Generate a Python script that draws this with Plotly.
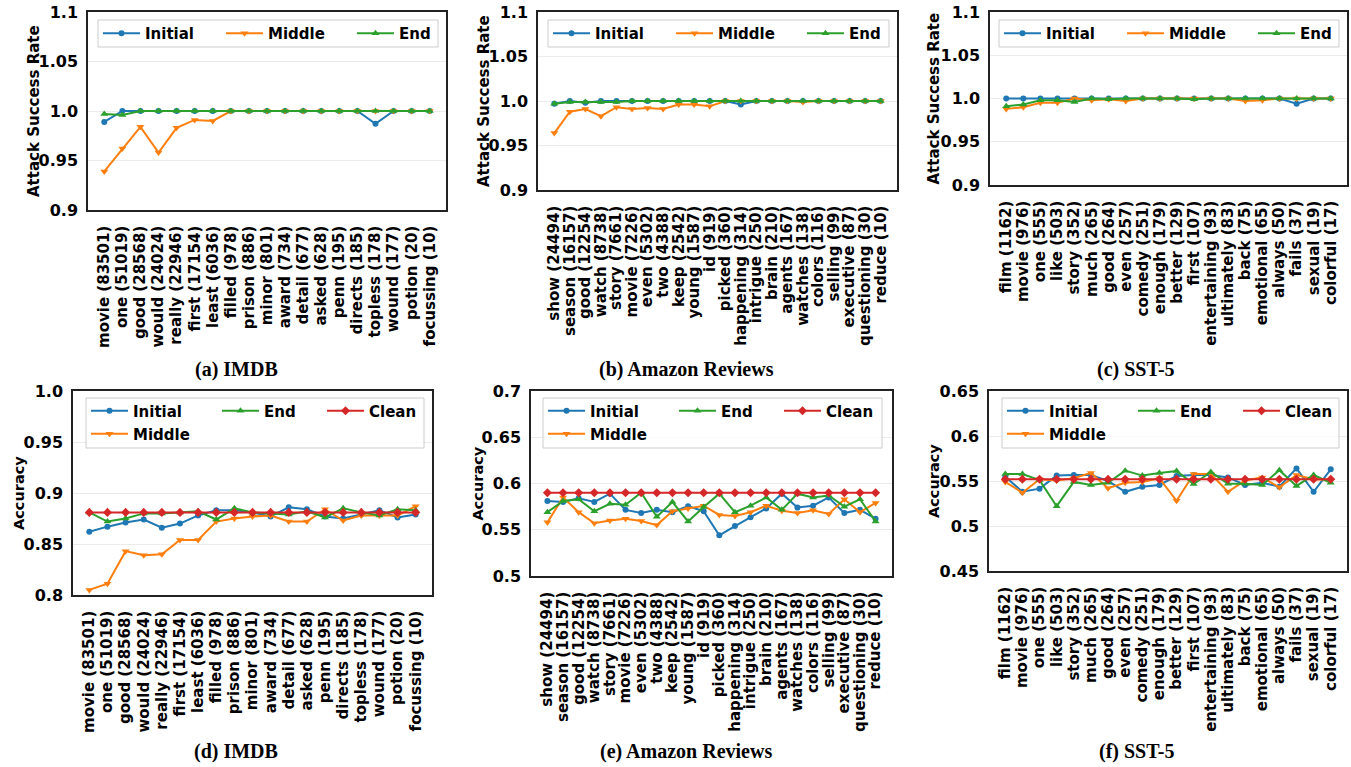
import plotly.graph_objects as go

W, H = 1351, 767

# ---------------- data ----------------
imdb_words = ["movie", "one", "good", "would", "really", "first", "least", "filled", "prison", "minor",
              "award", "detail", "asked", "penn", "directs", "topless", "wound", "potion", "focussing"]
imdb_counts = [83501, 51019, 28568, 24024, 22946, 17154, 6036, 978, 886, 801,
               734, 677, 628, 195, 185, 178, 177, 20, 10]

amazon_words = ["show", "season", "good", "watch", "story", "movie", "even", "two", "keep", "young", "id",
                "picked", "happening", "intrigue", "brain", "agents", "watches", "colors", "selling",
                "executive", "questioning", "reduce"]
amazon_counts = [24494, 16157, 12254, 8738, 7661, 7226, 5302, 4388, 2542, 1587, 919,
                 360, 314, 250, 210, 167, 138, 116, 99, 87, 30, 10]

sst_words = ["film", "movie", "one", "like", "story", "much", "good", "even", "comedy", "enough", "better",
             "first", "entertaining", "ultimately", "back", "emotional", "always", "fails", "sexual", "colorful"]
sst_counts = [1162, 976, 555, 503, 352, 265, 264, 257, 251, 179, 129,
              107, 93, 83, 75, 65, 50, 37, 19, 17]

# Attack success rate
imdb_asr_initial = [0.989, 1.0, 1.0, 1.0, 1.0, 1.0, 1.0, 1.0, 1.0, 1.0, 1.0, 1.0, 1.0, 1.0, 1.0, 0.987, 1.0, 1.0, 1.0]
imdb_asr_middle = [0.939, 0.962, 0.984, 0.958, 0.983, 0.991, 0.990, 1.0, 1.0, 1.0, 1.0, 1.0, 1.0, 1.0, 1.0, 1.0, 1.0, 1.0, 1.0]
imdb_asr_end = [0.997, 0.996, 1.0, 1.0, 1.0, 1.0, 1.0, 1.0, 1.0, 1.0, 1.0, 1.0, 1.0, 1.0, 1.0, 1.0, 1.0, 1.0, 1.0]

amazon_asr_initial = [0.997, 1.0, 0.998, 1.0, 1.0, 1.0, 1.0, 1.0, 1.0, 1.0, 1.0, 1.0, 0.996, 1.0, 1.0, 1.0,
                      1.0, 1.0, 1.0, 1.0, 1.0, 1.0]
amazon_asr_middle = [0.964, 0.988, 0.991, 0.983, 0.993, 0.991, 0.992, 0.991, 0.996, 0.996, 0.994, 1.0, 1.0,
                     1.0, 1.0, 1.0, 0.999, 1.0, 1.0, 1.0, 1.0, 1.0]
amazon_asr_end = [0.997, 0.999, 0.999, 0.999, 0.999, 1.0, 1.0, 1.0, 1.0, 1.0, 1.0, 1.0, 1.0, 1.0, 1.0, 1.0,
                  1.0, 1.0, 1.0, 1.0, 1.0, 1.0]

sst_asr_initial = [1.0, 1.0, 1.0, 1.0, 1.0, 1.0, 1.0, 1.0, 1.0, 1.0, 1.0, 1.0, 1.0, 1.0, 1.0, 1.0, 1.0, 0.994, 1.0, 1.0]
sst_asr_middle = [0.988, 0.990, 0.995, 0.995, 1.0, 0.998, 0.999, 0.997, 1.0, 1.0, 1.0, 1.0, 1.0, 1.0, 0.997,
                  0.998, 1.0, 1.0, 1.0, 1.0]
sst_asr_end = [0.991, 0.993, 0.998, 0.998, 0.996, 1.0, 0.999, 1.0, 1.0, 1.0, 1.0, 0.999, 1.0, 1.0, 1.0, 1.0,
               1.0, 1.0, 1.0, 1.0]

# Accuracy
imdb_acc_initial = [0.862, 0.867, 0.871, 0.874, 0.866, 0.870, 0.878, 0.883, 0.883, 0.881, 0.877, 0.886, 0.884,
                    0.877, 0.875, 0.879, 0.883, 0.876, 0.879]
imdb_acc_middle = [0.805, 0.811, 0.843, 0.839, 0.840, 0.854, 0.854, 0.872, 0.875, 0.877, 0.878, 0.872, 0.872,
                   0.884, 0.873, 0.878, 0.878, 0.878, 0.887]
imdb_acc_end = [0.881, 0.872, 0.875, 0.880, 0.880, 0.881, 0.882, 0.874, 0.885, 0.881, 0.880, 0.879, 0.882,
                0.876, 0.885, 0.881, 0.878, 0.884, 0.883]
imdb_acc_clean = [0.881, 0.881, 0.881, 0.881, 0.881, 0.881, 0.881, 0.881, 0.881, 0.881, 0.881, 0.881, 0.881,
                  0.881, 0.881, 0.881, 0.881, 0.881, 0.881]

amazon_acc_initial = [0.581, 0.580, 0.584, 0.580, 0.589, 0.5715, 0.568, 0.5715, 0.569, 0.5755, 0.570, 0.544,
                      0.554, 0.5635, 0.573, 0.589, 0.574, 0.576, 0.585, 0.568, 0.5715, 0.562]
amazon_acc_middle = [0.558, 0.585, 0.569, 0.557, 0.560, 0.562, 0.5595, 0.555, 0.570, 0.573, 0.576, 0.566,
                     0.565, 0.569, 0.576, 0.5705, 0.568, 0.571, 0.567, 0.583, 0.569, 0.579]
amazon_acc_end = [0.569, 0.581, 0.583, 0.570, 0.578, 0.577, 0.590, 0.564, 0.580, 0.559, 0.5745, 0.589,
                  0.569, 0.576, 0.585, 0.5715, 0.589, 0.585, 0.587, 0.575, 0.583, 0.559]
amazon_acc_clean = [0.590, 0.590, 0.590, 0.590, 0.590, 0.590, 0.590, 0.590, 0.590, 0.590, 0.590, 0.590,
                    0.590, 0.590, 0.590, 0.590, 0.590, 0.590, 0.590, 0.590, 0.590, 0.590]

sst_acc_initial = [0.5548, 0.538, 0.5415, 0.556, 0.5567, 0.5567, 0.550, 0.538, 0.5437, 0.5456, 0.5555, 0.5567,
                   0.5567, 0.554, 0.5456, 0.548, 0.5437, 0.564, 0.538, 0.563]
sst_acc_middle = [0.549, 0.537, 0.552, 0.5505, 0.553, 0.559, 0.542, 0.548, 0.549, 0.553, 0.528, 0.5578,
                  0.5578, 0.538, 0.5505, 0.554, 0.543, 0.5567, 0.552, 0.551]
sst_acc_end = [0.5578, 0.5578, 0.551, 0.522, 0.549, 0.5456, 0.548, 0.5615, 0.556, 0.559, 0.561, 0.5467,
               0.560, 0.547, 0.547, 0.5456, 0.562, 0.5445, 0.5567, 0.548]
sst_acc_clean = [0.552, 0.552, 0.552, 0.552, 0.552, 0.552, 0.552, 0.552, 0.552, 0.552, 0.552, 0.552, 0.552,
                 0.552, 0.552, 0.552, 0.552, 0.552, 0.552, 0.552]

asr_ticks = [0.9, 0.95, 1.0, 1.05, 1.1]
asr_ticktext = ["0.9", "0.95", "1.0", "1.05", "1.1"]
imdb_acc_ticks = [0.8, 0.85, 0.9, 0.95, 1.0]
imdb_acc_ticktext = ["0.8", "0.85", "0.9", "0.95", "1.0"]
amazon_acc_ticks = [0.5, 0.55, 0.6, 0.65, 0.7]
amazon_acc_ticktext = ["0.5", "0.55", "0.6", "0.65", "0.7"]
sst_acc_ticks = [0.45, 0.5, 0.55, 0.6, 0.65]
sst_acc_ticktext = ["0.45", "0.5", "0.55", "0.6", "0.65"]

captions = ["(a) IMDB", "(b) Amazon Reviews", "(c) SST-5", "(d) IMDB", "(e) Amazon Reviews", "(f) SST-5"]
series_names = ["Initial", "Middle", "End", "Clean"]

# ---------------- styling ----------------
COLORS = {"Initial": "#1f77b4", "Middle": "#ff7f0e", "End": "#2ca02c", "Clean": "#d62728"}
SYMBOLS = {"Initial": "circle", "Middle": "triangle-down", "End": "triangle-up", "Clean": "diamond"}
MSIZE = {"Initial": 6, "Middle": 7, "End": 7, "Clean": 7}
SANS = "DejaVu Sans"
SERIF = "Liberation Serif"


def labels(words, counts):
    return [f"{w} ({c})" for w, c in zip(words, counts)]


# panel pixel boxes: left, right, top, bottom
panels = [
    dict(box=(88, 446, 12, 210), cats=labels(imdb_words, imdb_counts),
         series={"Initial": imdb_asr_initial, "Middle": imdb_asr_middle, "End": imdb_asr_end},
         ticks=asr_ticks, ticktext=asr_ticktext, title="Attack Success Rate", titlex=34,
         legbox=(98, 438, 20, 47), legx=98, capx=236, capy=369),
    dict(box=(538, 897, 12, 190), cats=labels(amazon_words, amazon_counts),
         series={"Initial": amazon_asr_initial, "Middle": amazon_asr_middle, "End": amazon_asr_end},
         ticks=asr_ticks, ticktext=asr_ticktext, title="Attack Success Rate", titlex=484,
         legbox=(548, 889, 20, 47), legx=548, capx=686, capy=369),
    dict(box=(990, 1347, 12, 185), cats=labels(sst_words, sst_counts),
         series={"Initial": sst_asr_initial, "Middle": sst_asr_middle, "End": sst_asr_end},
         ticks=asr_ticks, ticktext=asr_ticktext, title="Attack Success Rate", titlex=934,
         legbox=(999, 1339, 20, 47), legx=999, capx=1136, capy=369),
    dict(box=(73, 432, 391, 595), cats=labels(imdb_words, imdb_counts),
         series={"Initial": imdb_acc_initial, "Middle": imdb_acc_middle, "End": imdb_acc_end,
                 "Clean": imdb_acc_clean},
         ticks=imdb_acc_ticks, ticktext=imdb_acc_ticktext, title="Accuracy", titlex=19,
         legbox=(86, 424, 398, 448), legx=86, capx=236, capy=751),
    dict(box=(531, 892, 391, 576), cats=labels(amazon_words, amazon_counts),
         series={"Initial": amazon_acc_initial, "Middle": amazon_acc_middle, "End": amazon_acc_end,
                 "Clean": amazon_acc_clean},
         ticks=amazon_acc_ticks, ticktext=amazon_acc_ticktext, title="Accuracy", titlex=477,
         legbox=(543, 882, 398, 448), legx=543, capx=686, capy=751),
    dict(box=(989, 1347, 391, 571), cats=labels(sst_words, sst_counts),
         series={"Initial": sst_acc_initial, "Middle": sst_acc_middle, "End": sst_acc_end,
                 "Clean": sst_acc_clean},
         ticks=sst_acc_ticks, ticktext=sst_acc_ticktext, title="Accuracy", titlex=934,
         legbox=(1002, 1339, 398, 448), legx=1002, capx=1136, capy=751),
]

fig = go.Figure()
layout = dict(
    width=W, height=H, margin=dict(l=0, r=0, t=0, b=0, pad=0, autoexpand=False),
    paper_bgcolor="white", plot_bgcolor="white", showlegend=True,
    font=dict(family=SANS, size=15, color="black"),
)
shapes, annotations = [], []

legend_counter = [0]


def new_legend_name():
    legend_counter[0] += 1
    return "legend" if legend_counter[0] == 1 else f"legend{legend_counter[0]}"


def px_x(v):
    return v / W


def px_y(v):
    return 1 - v / H


for i, p in enumerate(panels):
    k = "" if i == 0 else str(i + 1)
    l, r, t, b = p["box"]
    n = len(p["cats"])
    top_row = i < 3
    layout["xaxis" + k] = dict(
        domain=[px_x(l), px_x(r)], anchor="y" + k, type="category",
        range=[-0.05 * (n - 1), 1.05 * (n - 1)],
        tickmode="array", tickvals=p["cats"], ticktext=p["cats"], tickangle=-90,
        tickfont=dict(family=SANS, size=15, color="black", weight="bold"),
        showgrid=False, showline=True, mirror=True, linecolor="#222", linewidth=1.5,
        ticks="", ticklabelstandoff=8, automargin=False, fixedrange=True,
    )
    layout["yaxis" + k] = dict(
        domain=[px_y(b), px_y(t)], anchor="x" + k, range=[p["ticks"][0], p["ticks"][-1]],
        tickmode="array", tickvals=p["ticks"], ticktext=p["ticktext"],
        tickfont=dict(family=SANS, size=16, color="black", weight="bold"),
        showgrid=True, gridcolor="#ebebeb", gridwidth=1, zeroline=False,
        showline=True, mirror=True, linecolor="#222", linewidth=1.5,
        ticks="", ticklabelstandoff=5, automargin=False, fixedrange=True,
    )

    # y-axis title, placed like the matplotlib label
    annotations.append(dict(
        text=p["title"], xref="paper", yref="paper", x=px_x(p["titlex"]), y=px_y((t + b) / 2),
        xanchor="center", yanchor="middle", textangle=-90, showarrow=False,
        font=dict(family=SANS, size=15 if top_row else 14.5, color="black", weight="bold"),
    ))

    # legend box (matplotlib style frame)
    bl, br, bt, bb = p["legbox"]
    shapes.append(dict(type="rect", xref="paper", yref="paper",
                       x0=px_x(bl), x1=px_x(br), y0=px_y(bb), y1=px_y(bt),
                       line=dict(color="#cccccc", width=1), fillcolor="rgba(255,255,255,0.8)",
                       layer="above"))

    if top_row:
        leg_rows = [(["Initial", "Middle", "End"], (bt + bb) / 2)]
        widths = {"Initial": 71, "Middle": 79, "End": 40}
    else:
        leg_rows = [(["Initial", "End", "Clean"], bt + 13), (["Middle"], bt + 36)]
        widths = {"Initial": 79, "End": 53, "Clean": 60, "Middle": 60}

    legend_of = {}
    for names, yc in leg_rows:
        lname = new_legend_name()
        layout[lname] = dict(
            x=px_x(p["legx"]), xanchor="left", y=px_y(yc), yanchor="middle",
            orientation="h", bgcolor="rgba(0,0,0,0)", borderwidth=0,
            itemwidth=37, tracegroupgap=0,
            font=dict(family=SANS, size=15, color="black", weight="bold"),
        )
        for rank, nm in enumerate(names):
            legend_of[nm] = (lname, rank)

    for nm in series_names:
        if nm not in p["series"]:
            continue
        lname, rank = legend_of[nm]
        fig.add_trace(go.Scatter(
            x=p["cats"], y=p["series"][nm], name=nm, mode="lines+markers",
            xaxis="x" + k, yaxis="y" + k,
            line=dict(color=COLORS[nm], width=2),
            marker=dict(symbol=SYMBOLS[nm], size=MSIZE[nm], color=COLORS[nm]),
            legend=lname, legendrank=rank + 1, legendwidth=widths[nm],
            hoverinfo="x+y+name",
        ))

    annotations.append(dict(
        text=captions[i], xref="paper", yref="paper", x=px_x(p["capx"]), y=px_y(p["capy"]),
        xanchor="center", yanchor="middle", showarrow=False,
        font=dict(family=SERIF, size=20, color="black", weight="bold"),
    ))

layout["shapes"] = shapes
layout["annotations"] = annotations
fig.update_layout(**layout)
fig.write_html("out.html", config={"displayModeBar": False},
               post_script="document.body.style.margin='0px';")
